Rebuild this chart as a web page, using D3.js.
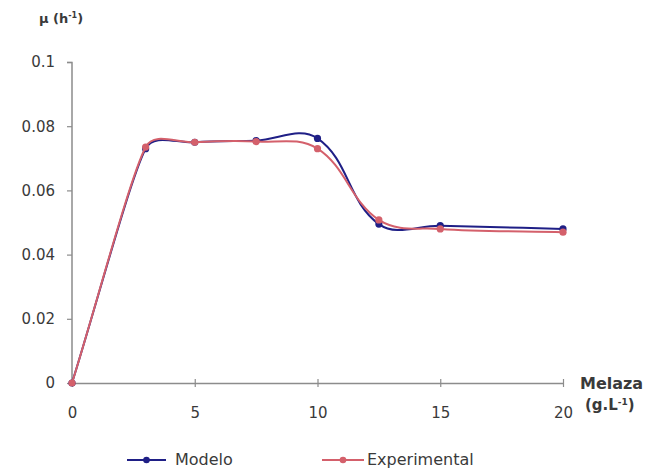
<!DOCTYPE html>
<html><head><meta charset="utf-8">
<script src="https://cdn.jsdelivr.net/npm/d3@7"></script>
<style>body{margin:0;background:#fff}svg{display:block}text{font-family:"DejaVu Sans",Arial,sans-serif;fill:#3a3a3a}</style>
</head><body>
<script>
const xValues = [0, 3, 5, 7.5, 10, 12.5, 15, 20];
const modelo = [0, 0.073, 0.075, 0.0755, 0.0762, 0.0495, 0.049, 0.048];
const experimental = [0, 0.0735, 0.075, 0.0752, 0.073, 0.0508, 0.048, 0.047];
const xTicks = [0, 5, 10, 15, 20];
const yTicks = [0, 0.02, 0.04, 0.06, 0.08, 0.1];
const seriesNames = ["Modelo", "Experimental"];

const W = 656, H = 468;
const svg = d3.select("body").append("svg").attr("width", W).attr("height", H);
const x = d3.scaleLinear().domain([0, 20]).range([72, 563]);
const y = d3.scaleLinear().domain([0, 0.1]).range([383, 62]);
const axisColor = "#8c8c8c";

// Excel-like smoothing: Bezier with tangent (P[i+1]-P[i-1]), handle lengths tied to adjacent segment lengths
function excelSmooth(context) {
  let pts = [];
  const T = 0.36;
  return {
    lineStart() { pts = []; },
    lineEnd() {
      const n = pts.length;
      if (!n) return;
      context.moveTo(pts[0][0], pts[0][1]);
      const dist = (a, b) => Math.hypot(b[0] - a[0], b[1] - a[1]);
      const tang = i => {
        const a = pts[Math.max(i - 1, 0)], b = pts[Math.min(i + 1, n - 1)];
        const dx = b[0] - a[0], dy = b[1] - a[1], l = Math.hypot(dx, dy) || 1;
        return [dx / l, dy / l];
      };
      const handle = (i, side) => {
        const dIn = dist(pts[i - 1], pts[i]), dOut = dist(pts[i], pts[i + 1]);
        const d = side < 0 ? Math.min(dIn, 2 * dOut) : Math.min(dOut, 2 * dIn);
        return d * T;
      };
      for (let i = 0; i < n - 1; i++) {
        const p = pts[i], q = pts[i + 1];
        let c1, c2;
        if (i === 0) c1 = [p[0] + (q[0] - p[0]) / 3, p[1] + (q[1] - p[1]) / 3];
        else { const u = tang(i), h = handle(i, 1); c1 = [p[0] + u[0] * h, p[1] + u[1] * h]; }
        if (i + 1 === n - 1) c2 = [q[0] - (q[0] - p[0]) / 3, q[1] - (q[1] - p[1]) / 3];
        else { const u = tang(i + 1), h = handle(i + 1, -1); c2 = [q[0] - u[0] * h, q[1] - u[1] * h]; }
        context.bezierCurveTo(c1[0], c1[1], c2[0], c2[1], q[0], q[1]);
      }
    },
    point(px, py) { pts.push([px, py]); },
    areaStart() {}, areaEnd() {}
  };
}

const yAxis = svg.append("g").attr("transform", "translate(72,0)")
  .call(d3.axisLeft(y).tickValues(yTicks).tickSize(5).tickPadding(12)
    .tickFormat(d => d === 0 ? "0" : String(+d.toFixed(2))));
const xAxis = svg.append("g").attr("transform", "translate(0,383)")
  .call(d3.axisBottom(x).tickValues(xTicks).tickSize(0).tickPadding(24).tickFormat(d3.format("d")));
[yAxis, xAxis].forEach(a => {
  a.select(".domain").attr("stroke", axisColor).attr("stroke-width", 1.5);
  a.selectAll(".tick line").attr("stroke", axisColor).attr("stroke-width", 1.2);
  a.selectAll("text").style("font-size", "15px").attr("fill", "#3a3a3a")
    .style("font-family", '"DejaVu Sans", Arial, sans-serif');
});
yAxis.select(".domain").attr("d", "M-5,62.5H0V383");
xAxis.selectAll(".tick line").attr("y1", -4).attr("y2", 4);

const line = d3.line().x(d => x(d[0])).y(d => y(d[1])).curve(excelSmooth);
const series = [
  {name: seriesNames[0], vals: modelo, color: "#1f1f86"},
  {name: seriesNames[1], vals: experimental, color: "#d4606b"}
];
series.forEach(s => {
  const pts = xValues.map((v, i) => [v, s.vals[i]]);
  svg.append("path").datum(pts).attr("d", line).attr("fill", "none")
    .attr("stroke", s.color).attr("stroke-width", 2);
  svg.selectAll(null).data(pts).enter().append("circle")
    .attr("cx", d => x(d[0])).attr("cy", d => y(d[1])).attr("r", 3.6).attr("fill", s.color);
});

// axis titles
const yt = svg.append("text").attr("x", 39).attr("y", 23).style("font-size", "13px").style("font-weight", "bold");
yt.append("tspan").text("μ (h");
yt.append("tspan").attr("dy", -5).style("font-size", "8px").text("-1");
yt.append("tspan").attr("dy", 5).text(")");
svg.append("text").attr("x", 580).attr("y", 389).style("font-size", "16px").style("font-weight", "bold").text("Melaza");
const xt = svg.append("text").attr("x", 585).attr("y", 410).style("font-size", "15px").style("font-weight", "bold");
xt.append("tspan").text("(g.L");
xt.append("tspan").attr("dy", -5).style("font-size", "9px").text("-1");
xt.append("tspan").attr("dy", 5).text(")");

// legend
const leg = [{x1: 127, x2: 166, tx: 175}, {x1: 322, x2: 364, tx: 367}];
series.forEach((s, i) => {
  const L = leg[i];
  svg.append("line").attr("x1", L.x1).attr("x2", L.x2).attr("y1", 460).attr("y2", 460)
    .attr("stroke", s.color).attr("stroke-width", 2);
  svg.append("circle").attr("cx", (L.x1 + L.x2) / 2).attr("cy", 460).attr("r", 3.3).attr("fill", s.color);
  svg.append("text").attr("x", L.tx).attr("y", 465).style("font-size", "16px").attr("fill", "#3a3a3a")
    .text(s.name);
});
</script>
</body></html>
